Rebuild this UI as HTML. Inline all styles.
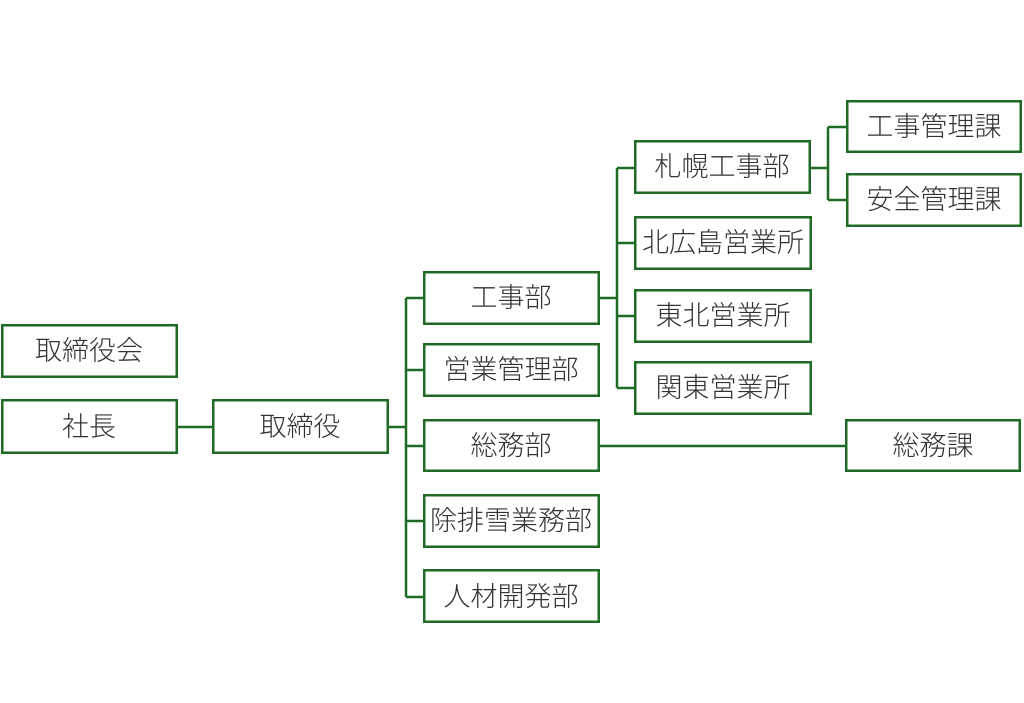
<!DOCTYPE html>
<html><head><meta charset="utf-8"><style>
html,body{margin:0;padding:0;background:#fff;}
svg{display:block;}
text{font-family:"Liberation Sans","Noto Sans CJK JP",sans-serif;font-size:27px;fill:#333;font-weight:300;}
</style></head><body>
<svg width="1024" height="703" viewBox="0 0 1024 703" xmlns="http://www.w3.org/2000/svg">
<g fill="none" stroke="#1f6a25" stroke-width="2.5">
<path d="M177 427H212"/>
<path d="M389 427H406"/>
<path d="M406 298V597"/>
<path d="M406 298H423M406 370H423M406 446H423M406 521H423M406 597H423"/>
<path d="M600 298H617"/>
<path d="M617 168V388"/>
<path d="M617 168H634M617 243H634M617 316H634M617 388H634"/>
<path d="M811 168H828"/>
<path d="M828 127V200"/>
<path d="M828 127H846M828 200H846"/>
<path d="M600 446H845"/>
<rect x="2.25" y="325.25" width="174.5" height="51.5"/>
<rect x="2.25" y="400.25" width="174.5" height="52.5"/>
<rect x="213.25" y="400.25" width="174.5" height="52.5"/>
<rect x="424.25" y="272.25" width="174.5" height="51.5"/>
<rect x="424.25" y="344.25" width="174.5" height="51.5"/>
<rect x="424.25" y="420.25" width="174.5" height="50.5"/>
<rect x="424.25" y="495.25" width="174.5" height="51.5"/>
<rect x="424.25" y="570.25" width="174.5" height="51.5"/>
<rect x="635.25" y="141.25" width="174.5" height="51.5"/>
<rect x="635.25" y="217.25" width="175.5" height="51.5"/>
<rect x="635.25" y="290.25" width="175.5" height="51.5"/>
<rect x="635.25" y="362.25" width="175.5" height="51.5"/>
<rect x="847.25" y="101.25" width="173.5" height="50.5"/>
<rect x="847.25" y="174.25" width="173.5" height="51.5"/>
<rect x="846.25" y="420.25" width="173.5" height="50.5"/>
</g>
<g text-anchor="middle" dominant-baseline="central">
<text x="89" y="351">取締役会</text>
<text x="89" y="427">社長</text>
<text x="300" y="427">取締役</text>
<text x="511" y="298">工事部</text>
<text x="511" y="370">営業管理部</text>
<text x="511" y="446">総務部</text>
<text x="511" y="521">除排雪業務部</text>
<text x="511" y="597">人材開発部</text>
<text x="722" y="167">札幌工事部</text>
<text x="723" y="243">北広島営業所</text>
<text x="723" y="316">東北営業所</text>
<text x="723" y="388">関東営業所</text>
<text x="934" y="127">工事管理課</text>
<text x="934" y="200">安全管理課</text>
<text x="933" y="446">総務課</text>
</g>
</svg>
</body></html>
